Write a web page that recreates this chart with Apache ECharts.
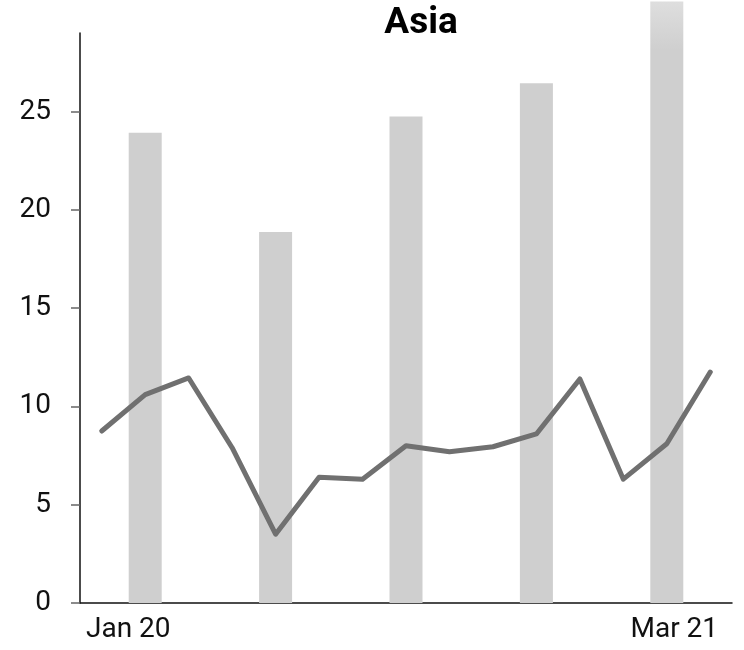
<!DOCTYPE html>
<html>
<head>
<meta charset="utf-8">
<script src="https://cdn.jsdelivr.net/npm/echarts@6/dist/echarts.min.js"></script>
<style>
  html, body { margin: 0; padding: 0; background: #fff; }
  #chart { width: 744px; height: 650px; }
</style>
</head>
<body>
<div id="chart"></div>
<script>
// Monthly categories, Jan 20 through Mar 21
const months = ['Jan 20', 'Feb 20', 'Mar 20', 'Apr 20', 'May 20', 'Jun 20', 'Jul 20',
                'Aug 20', 'Sep 20', 'Oct 20', 'Nov 20', 'Dec 20', 'Jan 21', 'Feb 21', 'Mar 21'];

// Monthly line series
const monthlyValues = [8.75, 10.6, 11.45, 7.9, 3.5, 6.4, 6.3, 8.0, 7.7, 7.95, 8.6, 11.4, 6.3, 8.1, 11.75];

// Quarterly bars (null where no bar is drawn)
const quarterlyValues = [null, 23.93, null, null, 18.87, null, null, 24.75, null, null, 26.44, null, null, 30.6, null];

// Y-axis ticks
const yTicks = [0, 5, 10, 15, 20, 25];
const yMax = 29;

const FONT = 'Roboto';

const chart = echarts.init(document.getElementById('chart'), null, { renderer: 'canvas' });

// Bars running past the axis top fade out toward their tip
const barData = quarterlyValues.map(v => {
  if (v === null) return null;
  if (v <= yMax) return v;
  return {
    value: v,
    itemStyle: {
      color: new echarts.graphic.LinearGradient(0, 0, 0, 1, [
        { offset: 0, color: '#dedede' },
        { offset: 0.08, color: '#cfcfcf' },
        { offset: 1, color: '#cfcfcf' }
      ])
    }
  };
});

chart.setOption({
  animation: false,
  backgroundColor: '#ffffff',
  title: {
    text: 'Asia',
    left: 416,
    top: 0,
    textAlign: 'center',
    textStyle: { fontFamily: FONT, fontWeight: 'bold', fontSize: 37, color: '#000' }
  },
  grid: { left: 80, right: 12, top: 33, bottom: 47, containLabel: false },
  xAxis: {
    type: 'category',
    data: months,
    boundaryGap: true,
    axisLine: { show: true, lineStyle: { color: '#111', width: 1.5 } },
    axisTick: { show: false },
    axisLabel: {
      interval: 0,
      margin: 13,
      fontFamily: FONT,
      fontSize: 28,
      color: '#111',
      formatter: (val, idx) => {
        if (idx === 0) return '{first|' + val + '}';
        if (idx === months.length - 1) return '{last|' + val + '}';
        return '';
      },
      rich: {
        first: { fontFamily: FONT, fontSize: 28, color: '#111', padding: [0, 0, 0, 53] },
        last: { fontFamily: FONT, fontSize: 28, color: '#111', padding: [0, 72, 0, 0] }
      }
    },
    splitLine: { show: false }
  },
  yAxis: {
    type: 'value',
    min: 0,
    max: yMax,
    interval: 5,
    axisLine: { show: true, lineStyle: { color: '#111', width: 1.5 } },
    axisTick: { show: true, length: 9, lineStyle: { color: '#666', width: 1.5 }, customValues: yTicks },
    axisLabel: {
      margin: 29,
      fontFamily: FONT,
      fontSize: 28,
      color: '#111',
      customValues: yTicks
    },
    splitLine: { show: false }
  },
  series: [
    {
      type: 'bar',
      data: barData,
      barWidth: 33,
      clip: false,
      itemStyle: { color: '#cfcfcf' },
      z: 1
    },
    {
      type: 'line',
      data: monthlyValues,
      showSymbol: false,
      symbol: 'none',
      lineStyle: { color: '#707070', width: 5, cap: 'round', join: 'round' },
      z: 2
    }
  ]
});
</script>
</body>
</html>
